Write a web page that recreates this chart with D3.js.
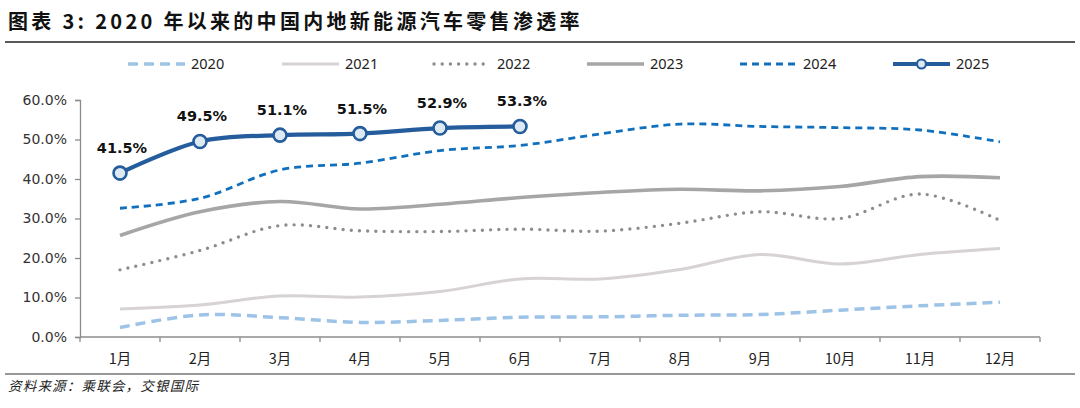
<!DOCTYPE html>
<html><head><meta charset="utf-8">
<script src="https://cdn.jsdelivr.net/npm/d3@7"></script>
<style>
html,body{margin:0;padding:0;background:#fff;}
svg{display:block;}
</style></head>
<body>
<svg id="chart" width="1080" height="408"></svg>
<script>
const months = ["1月","2月","3月","4月","5月","6月","7月","8月","9月","10月","11月","12月"];
const yTicks = [0,10,20,30,40,50,60];
const s2020 = [2.4,5.6,4.9,3.7,4.2,5.0,5.1,5.5,5.7,6.8,7.9,8.8];
const s2021 = [7.1,8.1,10.4,10.1,11.5,14.7,14.7,17.1,20.9,18.5,20.9,22.4];
const s2022 = [17.0,21.9,28.2,26.9,26.7,27.3,26.8,28.8,31.7,30.0,36.2,29.5];
const s2023 = [25.7,31.7,34.3,32.4,33.6,35.3,36.6,37.4,37.0,38.1,40.6,40.3];
const s2024 = [32.6,35.1,42.3,44.0,47.2,48.5,51.4,53.9,53.3,53.0,52.4,49.4];
const s2025 = [41.5,49.5,51.1,51.5,52.9,53.3];
const seriesNames = ["2020","2021","2022","2023","2024","2025"];

const styles = {
  "2020": {color:"#9DC3E6", width:3.5, dash:"10,6", cap:"butt"},
  "2021": {color:"#D6D2D6", width:3, dash:null, cap:"butt"},
  "2022": {color:"#8E8B93", width:3.4, dash:"0,8.2", cap:"round"},
  "2023": {color:"#A6A6A6", width:3.6, dash:null, cap:"butt"},
  "2024": {color:"#1170BD", width:2.8, dash:"7,5", cap:"butt"},
  "2025": {color:"#245C9C", width:4.2, dash:null, cap:"butt"}
};
const seriesData = {"2020":s2020,"2021":s2021,"2022":s2022,"2023":s2023,"2024":s2024,"2025":s2025};

(function(){
const svg = d3.select("#chart");
const pl = 80, pr = 1040, pt = 100, pb = 337;

const xBand = d3.scaleBand().domain(months).range([pl,pr]).padding(0);
const x = d => xBand(d) + xBand.bandwidth()/2;
const y = d3.scaleLinear().domain([0,60]).range([pb,pt]);

// Title
svg.append("text").attr("x",8).attr("y",29)
  .attr("font-family","'Noto Sans CJK SC'").attr("font-weight","bold")
  .attr("font-size",20).attr("letter-spacing",3.3).attr("fill","#111")
  .text("图表 3: 2020 年以来的中国内地新能源汽车零售渗透率");
svg.append("line").attr("x1",5).attr("x2",1075).attr("y1",42).attr("y2",42)
  .attr("stroke","#222").attr("stroke-width",1.5);

// Legend
const legX = [128,282,434,587,740,893];
seriesNames.forEach((n,i)=>{
  const st = styles[n];
  const g = svg.append("g");
  g.append("line").attr("x1",legX[i]).attr("x2",legX[i]+57).attr("y1",64).attr("y2",64)
    .attr("stroke",st.color).attr("stroke-width",st.width)
    .attr("stroke-dasharray",st.dash).attr("stroke-linecap",st.cap);
  if(n==="2025"){
    g.append("circle").attr("cx",legX[i]+28.5).attr("cy",64).attr("r",4.5)
      .attr("fill","#DDEAF3").attr("stroke",st.color).attr("stroke-width",2.2);
  }
  g.append("text").attr("x",legX[i]+63).attr("y",69)
    .attr("font-family","'Noto Sans'").attr("font-size",14.5).attr("fill","#222").text(n);
});

// Y axis
const yAxis = d3.axisLeft(y).tickValues(yTicks).tickSize(5).tickPadding(8)
  .tickFormat(d=>d.toFixed(1)+"%");
const gy = svg.append("g").attr("transform",`translate(${pl},0)`).call(yAxis);
gy.select(".domain").attr("stroke","#8C8C8C").attr("stroke-width",1.3);
gy.selectAll(".tick line").attr("stroke","#8C8C8C").attr("stroke-width",1.3);
gy.selectAll(".tick text").attr("font-family","'DejaVu Sans'").attr("font-size",14).attr("fill","#333");

// X axis
const gx = svg.append("g").attr("transform",`translate(0,${pb})`);
gx.append("line").attr("x1",pl).attr("x2",pr).attr("stroke","#8C8C8C").attr("stroke-width",1.3);
const edges = months.map(m=>xBand(m)).concat([pr]);
gx.selectAll("line.tk").data(edges).enter().append("line").attr("class","tk")
  .attr("x1",d=>d).attr("x2",d=>d).attr("y1",0).attr("y2",5)
  .attr("stroke","#8C8C8C").attr("stroke-width",1.3);
gx.selectAll("text").data(months).enter().append("text")
  .attr("x",d=>x(d)).attr("y",27).attr("text-anchor","middle")
  .attr("font-family","'Noto Sans CJK SC'").attr("font-size",14.5).attr("fill","#222")
  .text(d=>d);

// Lines
const line = d3.line().x((d,i)=>x(months[i])).y(d=>y(d)).curve(d3.curveCatmullRom.alpha(0.5));
seriesNames.forEach(n=>{
  const st = styles[n];
  svg.append("path").datum(seriesData[n]).attr("d",line)
    .attr("fill","none").attr("stroke",st.color).attr("stroke-width",st.width)
    .attr("stroke-dasharray",st.dash).attr("stroke-linecap",st.cap)
    .attr("stroke-linejoin","round");
});

// 2025 markers & labels
svg.selectAll("circle.m").data(s2025).enter().append("circle").attr("class","m")
  .attr("cx",(d,i)=>x(months[i])).attr("cy",d=>y(d)).attr("r",6.5)
  .attr("fill","#DDEAF3").attr("stroke",styles["2025"].color).attr("stroke-width",2.6);
svg.selectAll("text.lbl").data(s2025).enter().append("text").attr("class","lbl")
  .attr("x",(d,i)=>x(months[i])+2).attr("y",d=>y(d)-20).attr("text-anchor","middle")
  .attr("font-family","'DejaVu Sans'").attr("font-weight","bold").attr("font-size",14.5)
  .attr("fill","#111").text(d=>d.toFixed(1)+"%");

// Bottom rule and source
svg.append("line").attr("x1",5).attr("x2",1075).attr("y1",374).attr("y2",374)
  .attr("stroke","#333").attr("stroke-width",1.2);
svg.append("text").attr("x",8).attr("y",391)
  .attr("font-family","'Noto Sans CJK SC'").attr("font-style","italic")
  .attr("font-size",13.5).attr("letter-spacing",1.2).attr("fill","#222")
  .text("资料来源：乘联会，交银国际");
})();
</script>
</body></html>
